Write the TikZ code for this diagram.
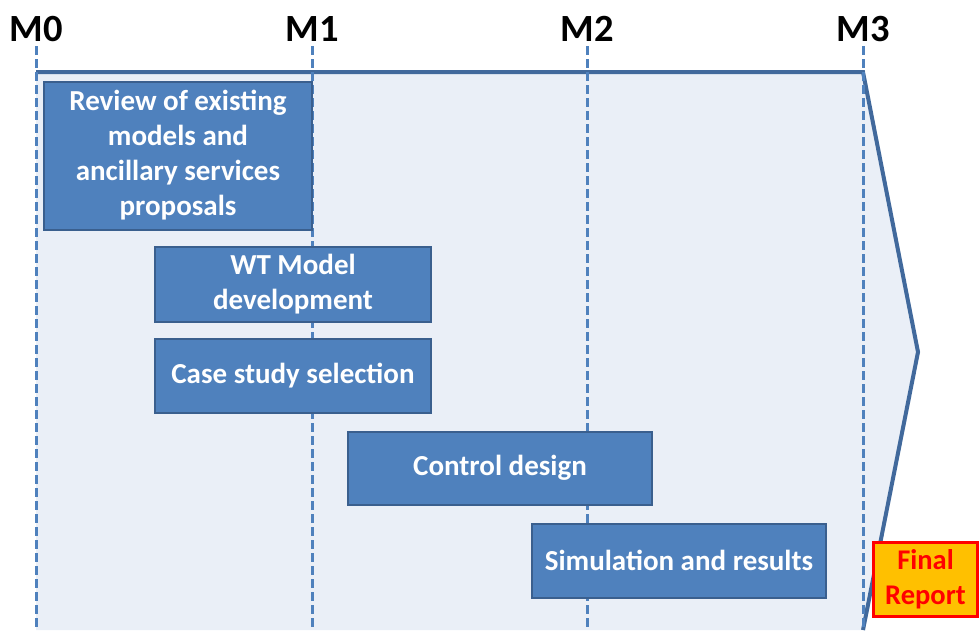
\documentclass[tikz,border=0pt]{standalone}
\usepackage{fontspec}
\setmainfont{Carlito}
\usepackage{tikz}

\definecolor{bandfill}{HTML}{EAEFF7}
\definecolor{bandline}{HTML}{41699C}
\definecolor{taskfill}{HTML}{4F81BD}
\definecolor{taskline}{HTML}{3A5F8E}
\definecolor{repfill}{HTML}{FFC000}

\begin{document}
\begin{tikzpicture}[x=1pt,y=-1pt,
    task/.style={draw=taskline,line width=2pt,fill=taskfill,text=white,
      inner sep=0pt,outer sep=0pt,align=center,
      font=\fontsize{29}{35}\selectfont\bfseries},
    milestone/.style={font=\fontsize{38.5}{40}\selectfont\bfseries,inner sep=0pt,anchor=base},
    mline/.style={draw=taskfill,line width=3pt,dash pattern=on 9pt off 4pt}]
  \useasboundingbox (0,0) rectangle (979,630);
  % time band with the closing chevron
  \fill[bandfill] (36,72) -- (863,72) -- (918,352) -- (863,630) -- (36,630) -- cycle;
  \draw[bandline,line width=4pt,line join=miter] (36,72) -- (863,72) -- (918,352) -- (863,630);
  % milestones
  \foreach \i/\x in {0/36,1/312,2/587,3/863} {
    \node[milestone] (m\i) at (\x,41) {M\i};
    \coordinate (b\i) at (\x,630);
    \draw[mline] (m\i.south) ++(0,5) -- (b\i);
  }
  % tasks
  \node[task,minimum width=268pt,minimum height=148pt] (review) at (178,155.5)
    {Review of existing\\models and\\ancillary services\\proposals};
  \node[task,minimum width=276pt,minimum height=75pt] (wtmodel) at (293,284)
    {WT Model\\development};
  \node[task,minimum width=276pt,minimum height=74pt] (casestudy) at (293,376)
    {Case study selection};
  \node[task,minimum width=304pt,minimum height=73pt] (control) at (500,468)
    {Control design};
  \node[task,minimum width=294pt,minimum height=74pt] (simres) at (679,560.5)
    {Simulation and results};
  \node[task,draw=red,fill=repfill,text=red,line width=3pt,
    font=\fontsize{28.5}{35}\selectfont\bfseries,
    minimum width=104pt,minimum height=74pt] (report) at (925.5,579)
    {Final\\Report};
\end{tikzpicture}
\end{document}
